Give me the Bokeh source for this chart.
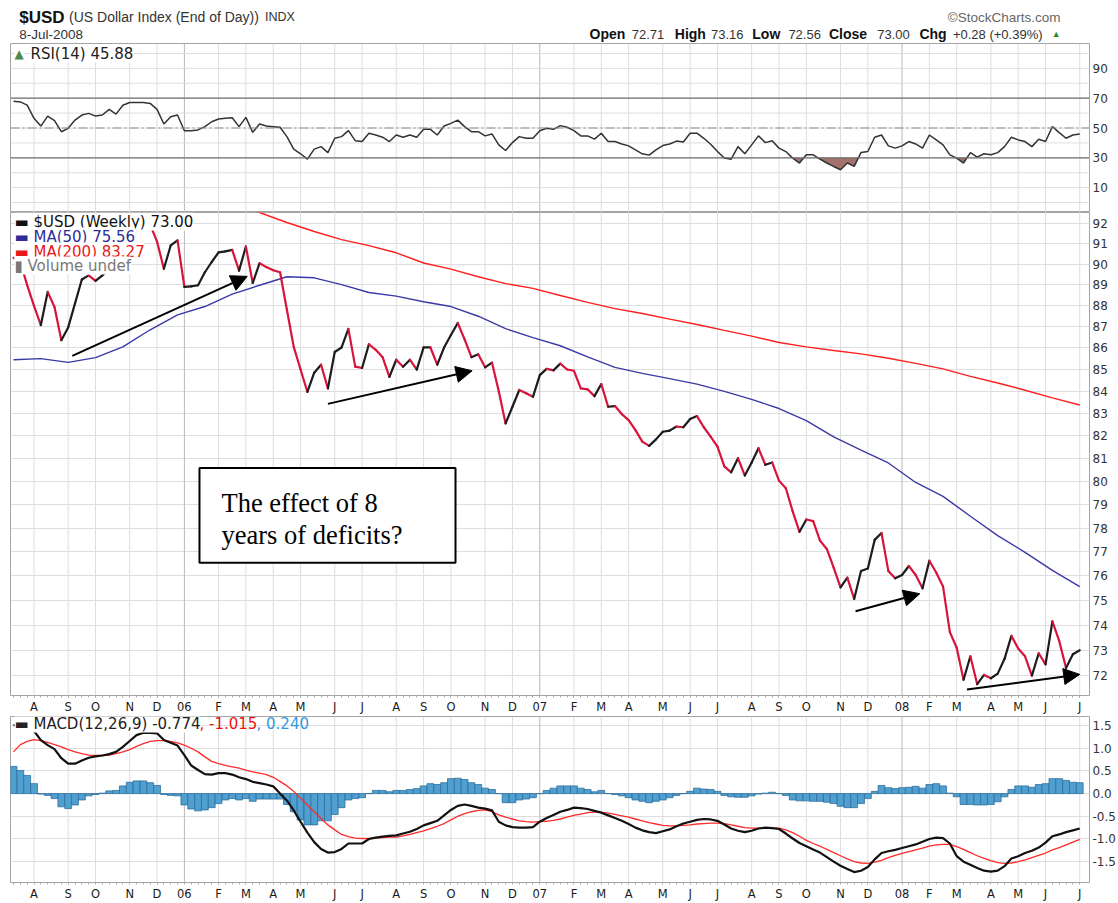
import numpy as np
from bokeh.plotting import figure
from bokeh.layouts import column
from bokeh.models import (Range1d, FixedTicker, PrintfTickFormatter, Span, Label,
                          Arrow, NormalHead, BoxAnnotation)
from bokeh.embed import file_html
from bokeh.resources import INLINE

# ---------------- data (weekly bars, index 0 = first bar) ----------------
weeks = list(range(157))

price = [90.3, 90.1, 88.98, 87.98, 87.07, 88.65, 87.93, 86.36, 86.96, 88.1,
         89.25, 89.45, 89.18, 89.45, 89.75, 89.6, 90.9, 92.0, 92.2, 92.3,
         91.95, 91.1, 89.77, 90.91, 91.16, 88.89, 88.92, 88.97, 89.6, 90.1,
         90.57, 90.62, 90.69, 89.68, 90.86, 89.08, 90.04, 89.85, 89.7, 89.6,
         87.8, 86.05, 85.0, 83.97, 84.85, 85.22, 84.13, 85.81, 86.02, 86.89,
         85.13, 85.07, 86.17, 85.91, 85.57, 84.66, 85.45, 85.13, 85.45, 84.99,
         86.02, 86.02, 85.22, 86.02, 86.6, 87.17, 86.4, 85.57, 85.7, 85.1,
         85.32, 84.0, 82.55, 83.3, 84.06, 83.91, 83.75, 84.74, 85.03, 84.96,
         85.27, 85.0, 84.94, 84.13, 84.09, 83.78, 84.33, 83.3, 83.33, 82.97,
         82.7, 82.25, 81.74, 81.55, 81.84, 82.18, 82.23, 82.41, 82.38, 82.75,
         82.88, 82.38, 81.96, 81.52, 80.65, 80.39, 81.01, 80.25, 80.82, 81.45,
         80.72, 80.82, 80.03, 79.7, 78.71, 77.84, 78.36, 78.29, 77.47, 77.12,
         76.34, 75.53, 75.93, 75.06, 76.2, 76.31, 77.5, 77.79, 76.2, 75.9,
         76.04, 76.41, 76.04, 75.49, 76.63, 76.14, 75.57, 73.72, 73.1, 71.84,
         72.76, 71.67, 72.03, 71.9, 72.08, 72.66, 73.57, 73.07, 72.76, 72.0,
         72.88, 72.44, 74.15, 73.37, 72.3, 72.84, 73.0]

ma50_weeks = list(range(0, 157, 4))
ma50 = [85.45, 85.50, 85.33, 85.55, 86.05, 86.85, 87.55, 87.95, 88.54, 88.97,
        89.38, 89.33, 89.0, 88.62, 88.45, 88.18, 87.95, 87.49, 86.9, 86.48,
        86.1, 85.58, 85.1, 84.82, 84.58, 84.33, 84.0, 83.63, 83.22, 82.68,
        81.95, 81.36, 80.8, 79.95, 79.35, 78.5, 77.68, 76.98, 76.23, 75.56]

ma200_weeks = list(range(32, 157, 4))
ma200 = [93.0, 92.55, 92.05, 91.6, 91.2, 90.9, 90.55, 90.05, 89.75, 89.38,
         89.05, 88.82, 88.48, 88.15, 87.85, 87.62, 87.35, 87.1, 86.82, 86.55,
         86.25, 86.05, 85.88, 85.72, 85.52, 85.28, 85.03, 84.68, 84.38, 84.05,
         83.7, 83.38]

rsi = [68, 67.5, 65.3, 56.5, 51.3, 58, 54.9, 47.5, 49.8, 55.3,
       58.7, 59.8, 58, 58.7, 62.5, 59.3, 65.3, 67.1, 67.1, 67.1,
       66.5, 62.5, 52.7, 57.5, 58.7, 48.2, 48.2, 48.7, 50.9, 54.2,
       56, 56.5, 56.9, 50.9, 57.1, 47.1, 52.7, 51.3, 50.9, 50.5,
       44.2, 35.8, 32.7, 29.1, 35.8, 37.5, 33.5, 43.1, 44.2, 48.2,
       41.5, 40.9, 46.5, 45.3, 43.8, 40.9, 45.3, 43.8, 45.3, 43.8,
       49.1, 49.1, 45.3, 51.3, 53.1, 55.3, 50.9, 47.5, 47.5, 44.7,
       46, 38.7, 34.9, 40.2, 44.2, 43.1, 43.1, 48.2, 49.8, 49.1,
       51.6, 50.5, 48.2, 44.7, 44.7, 42.5, 46.5, 40.9, 40.9, 39.3,
       38, 35.3, 32.7, 31.8, 35.3, 38.2, 39.3, 41.2, 40.6, 46.5,
       46.5, 43.1, 39.1, 34.2, 29.8, 29.1, 37.5, 32.7, 38.7, 44.7,
       40.2, 41.5, 36.5, 34.2, 29.8, 26.5, 32, 32, 29.1, 26.5,
       24.2, 22, 26.5, 24.2, 33.5, 34.2, 43.8, 45.3, 38, 36.5,
       38, 40.9, 39.3, 36.5, 45.3, 42, 38.7, 32, 29.8, 26.5,
       33.5, 30.5, 32.7, 32, 33.5, 37.5, 43.8, 42, 40.9, 37.5,
       42.5, 40.9, 50.9, 46.9, 43.1, 45.3, 45.9]

macd = [1.51, 1.50, 1.47, 1.38, 1.18, 1.07, 0.98, 0.78, 0.66, 0.66,
        0.73, 0.79, 0.82, 0.84, 0.87, 0.92, 1.03, 1.16, 1.29, 1.34,
        1.34, 1.33, 1.18, 1.12, 1.06, 0.85, 0.62, 0.52, 0.43, 0.42,
        0.45, 0.45, 0.42, 0.36, 0.32, 0.26, 0.23, 0.20, 0.16, 0.00,
        -0.15, -0.37, -0.62, -0.86, -1.07, -1.22, -1.30, -1.29, -1.22, -1.10,
        -1.10, -1.10, -1.00, -0.97, -0.95, -0.93, -0.92, -0.88, -0.84, -0.78,
        -0.70, -0.65, -0.60, -0.48, -0.36, -0.27, -0.24, -0.27, -0.31, -0.33,
        -0.37, -0.62, -0.70, -0.74, -0.75, -0.75, -0.74, -0.62, -0.54, -0.47,
        -0.40, -0.36, -0.31, -0.32, -0.34, -0.38, -0.42, -0.48, -0.54, -0.60,
        -0.67, -0.75, -0.81, -0.85, -0.87, -0.83, -0.79, -0.72, -0.66, -0.62,
        -0.58, -0.56, -0.57, -0.60, -0.68, -0.77, -0.82, -0.85, -0.82, -0.77,
        -0.75, -0.76, -0.78, -0.88, -0.99, -1.09, -1.16, -1.23, -1.30, -1.40,
        -1.50, -1.59, -1.66, -1.73, -1.70, -1.62, -1.45, -1.31, -1.27, -1.24,
        -1.20, -1.16, -1.12, -1.06, -1.00, -0.97, -0.98, -1.10, -1.38, -1.50,
        -1.57, -1.64, -1.70, -1.72, -1.70, -1.60, -1.43, -1.38, -1.31, -1.26,
        -1.19, -1.08, -0.94, -0.90, -0.85, -0.81, -0.77]

signal = [0.92, 1.08, 1.15, 1.19, 1.17, 1.13, 1.08, 1.03, 0.97, 0.92,
          0.88, 0.85, 0.84, 0.84, 0.85, 0.88, 0.92, 0.97, 1.04, 1.10,
          1.15, 1.17, 1.17, 1.15, 1.12, 1.07, 1.00, 0.92, 0.81, 0.71,
          0.66, 0.62, 0.59, 0.56, 0.52, 0.48, 0.45, 0.42, 0.36, 0.27,
          0.17, 0.05, -0.10, -0.25, -0.40, -0.55, -0.69, -0.80, -0.90, -0.95,
          -0.98, -0.99, -0.99, -0.98, -0.97, -0.96, -0.96, -0.93, -0.90, -0.86,
          -0.82, -0.77, -0.72, -0.66, -0.58, -0.50, -0.44, -0.40, -0.37, -0.36,
          -0.40, -0.47, -0.52, -0.56, -0.60, -0.62, -0.63, -0.62, -0.61, -0.59,
          -0.56, -0.52, -0.48, -0.45, -0.42, -0.41, -0.41, -0.43, -0.46, -0.49,
          -0.52, -0.56, -0.60, -0.64, -0.67, -0.70, -0.71, -0.71, -0.70, -0.69,
          -0.67, -0.66, -0.65, -0.65, -0.66, -0.69, -0.72, -0.75, -0.76, -0.76,
          -0.76, -0.76, -0.76, -0.80, -0.86, -0.94, -1.03, -1.10, -1.16, -1.23,
          -1.30, -1.37, -1.44, -1.50, -1.53, -1.54, -1.51, -1.47, -1.41, -1.36,
          -1.32, -1.28, -1.24, -1.20, -1.16, -1.13, -1.12, -1.12, -1.17, -1.23,
          -1.30, -1.37, -1.43, -1.48, -1.52, -1.54, -1.53, -1.50, -1.46, -1.41,
          -1.36, -1.31, -1.24, -1.19, -1.13, -1.07, -1.01]

hist = [0.60, 0.51, 0.40, 0.22, -0.01, -0.04, -0.11, -0.29, -0.33, -0.25,
        -0.14, -0.05, -0.02, 0.01, 0.06, 0.07, 0.17, 0.25, 0.28, 0.28,
        0.24, 0.18, -0.02, -0.04, -0.05, -0.25, -0.34, -0.38, -0.36, -0.31,
        -0.22, -0.14, -0.11, -0.14, -0.11, -0.17, -0.12, -0.12, -0.12, -0.12,
        -0.24, -0.40, -0.58, -0.69, -0.69, -0.60, -0.60, -0.46, -0.31, -0.14,
        -0.11, -0.09, 0.00, 0.07, 0.07, 0.04, 0.07, 0.07, 0.09, 0.11,
        0.17, 0.22, 0.20, 0.24, 0.33, 0.34, 0.31, 0.24, 0.20, 0.12,
        0.09, 0.00, -0.20, -0.20, -0.14, -0.12, -0.09, 0.00, 0.07, 0.12,
        0.17, 0.17, 0.17, 0.12, 0.09, 0.04, 0.07, 0.00, -0.02, -0.05,
        -0.09, -0.14, -0.17, -0.20, -0.17, -0.14, -0.09, -0.04, 0.00, 0.05,
        0.12, 0.10, 0.09, 0.05, -0.04, -0.07, -0.08, -0.08, -0.05, -0.01,
        0.01, 0.03, 0.00, -0.04, -0.14, -0.16, -0.16, -0.17, -0.17, -0.19,
        -0.22, -0.28, -0.31, -0.31, -0.22, -0.11, 0.05, 0.18, 0.13, 0.11,
        0.13, 0.14, 0.16, 0.12, 0.20, 0.22, 0.17, 0.01, -0.07, -0.24,
        -0.24, -0.25, -0.25, -0.24, -0.18, -0.07, 0.09, 0.17, 0.17, 0.14,
        0.20, 0.22, 0.33, 0.33, 0.29, 0.25, 0.24]

month_ticks = [3, 8, 12, 17, 21, 25, 30, 34, 38, 42, 47, 51, 56, 60, 64, 69, 73, 77,
               82, 86, 90, 95, 99, 103, 108, 112, 116, 121, 125, 130, 134, 138, 143,
               147, 151, 156]
month_labels = ["A", "S", "O", "N", "D", "06", "F", "M", "A", "M", "J", "J", "A", "S",
                "O", "N", "D", "07", "F", "M", "A", "M", "J", "J", "A", "S", "O", "N",
                "D", "08", "F", "M", "A", "M", "J", "J"]
year_labels = ["06", "07", "08"]

price_ticks = list(range(72, 93))
rsi_ticks = [10, 30, 50, 70, 90]
rsi_grid = list(range(0, 101, 10))
macd_ticks = [-1.5, -1.0, -0.5, 0.0, 0.5, 1.0, 1.5]

# annotation arrows (x0, y0, x1, y1) in week / price units
arrows = [(8.6, 85.63, 34.2, 89.4), (46.0, 83.43, 67.1, 84.94),
          (123.2, 74.56, 132.6, 75.27), (139.5, 71.46, 156.0, 72.05)]

# ---------------- styling ----------------
FONT = "DejaVu Sans"
GRID = "#dedede"
YEARGRID = "#b8b8b8"
BORDER = "#a4a4a4"
UP = "#1c1c1c"
DOWN = "#d8143a"

x_range = Range1d(-0.44, 157.43)


def panel(height, y_range, border_bottom, y_type="linear", x_axis=None):
    p = figure(width=1118, height=height, x_range=x_range, y_range=y_range,
               y_axis_type=y_type, y_axis_location="right", x_axis_location=x_axis,
               toolbar_location=None, output_backend="svg",
               min_border_left=10, min_border_right=29, min_border_top=0,
               min_border_bottom=border_bottom)
    p.outline_line_color = BORDER
    p.background_fill_color = "white"
    p.border_fill_color = "white"
    p.xgrid.visible = False
    p.ygrid.grid_line_color = GRID
    ya = p.yaxis[0]
    ya.major_tick_out = 0
    ya.major_tick_in = 0
    ya.minor_tick_out = 0
    ya.minor_tick_in = 0
    ya.axis_line_color = None
    ya.major_label_standoff = 3
    ya.major_label_text_font = FONT
    ya.major_label_text_font_size = "12px"
    ya.major_label_text_color = "#333333"
    for t, lab in zip(month_ticks, month_labels):
        p.add_layout(Span(location=t, dimension="height",
                          line_color=YEARGRID if lab in year_labels else GRID,
                          line_width=1, level="underlay"))
    if x_axis is not None:
        ax = p.xaxis[0]
        ax.ticker = FixedTicker(ticks=month_ticks, minor_ticks=weeks)
        ax.major_label_overrides = {t: lab for t, lab in zip(month_ticks, month_labels)}
        ax.major_label_text_font = FONT
        ax.major_label_text_font_size = "11.5px"
        ax.major_label_text_color = "#1a1a1a"
        ax.major_tick_out = 2
        ax.major_tick_in = 0
        ax.minor_tick_out = 2
        ax.minor_tick_in = 0
        ax.major_tick_line_color = "#999999"
        ax.minor_tick_line_color = "#aaaaaa"
        ax.axis_line_color = None
        ax.major_label_standoff = 2
    return p


def slabel(p, x, y, text, color, size="15px", font=FONT, style="normal", bg="white"):
    p.add_layout(Label(x=x, y=y, x_units="screen", y_units="screen", text=text,
                       text_color=color, text_font=font, text_font_size=size,
                       text_font_style=style, text_baseline="middle",
                       background_fill_color=bg))


# ---------------- header ----------------
hdr = figure(width=1118, height=43, x_range=Range1d(0, 1118), y_range=Range1d(43, 0),
             x_axis_location=None, y_axis_location=None, toolbar_location=None,
             output_backend="svg", min_border=0)
hdr.outline_line_color = None
hdr.grid.visible = False


def htext(x, y, text, size, style="normal", color="#222222", align="left", font="Liberation Sans"):
    hdr.add_layout(Label(x=x, y=y, text=text, text_font=font, text_font_size=size,
                         text_font_style=style, text_color=color, text_align=align,
                         text_baseline="middle"))


htext(9, 16.5, "$USD", "17px", "bold", "#111111")
htext(60.7, 16.5, "(US Dollar Index (End of Day))", "14px", color="#333333")
htext(263.6, 16.5, "INDX", "12.5px", color="#333333")
htext(9, 33.5, "8-Jul-2008", "13.5px", color="#333333")
htext(1088, 16.5, "\u00a9StockCharts.com", "13.5px", color="#666666", align="right")
for x, t, st in [(600, "Open", "bold"), (643.7, "72.71", "normal"), (688.3, "High", "bold"),
                 (725.8, "73.16", "normal"), (768.6, "Low", "bold"), (806, "72.56", "normal"),
                 (848, "Close", "bold"), (898, "73.00", "normal"), (941.8, "Chg", "bold"),
                 (976.5, "+0.28 (+0.39%)", "normal")]:
    htext(x, 33.5, t, "14px" if st == "bold" else "13px", st,
          "#111111" if st == "bold" else "#333333")
htext(1079, 33.5, "\u25b2", "9px", color="#2e8b2e")

# ---------------- RSI panel ----------------
rp = panel(169, Range1d(-6.7, 106.7), 0)
rp.yaxis[0].ticker = FixedTicker(ticks=rsi_ticks)
rp.ygrid.visible = False
for g in rsi_grid:
    rp.add_layout(Span(location=g, dimension="width", line_color=GRID, line_width=1, level="underlay"))
for g in (70, 30):
    rp.add_layout(Span(location=g, dimension="width", line_color="#707070", line_width=1.3))
rp.add_layout(Span(location=50, dimension="width", line_color="#8c8c8c", line_width=1.1,
                   line_dash="9 3 2 3"))

fx, fy = [], []
for i in range(len(rsi)):
    if i > 0:
        a, b = rsi[i - 1], rsi[i]
        if (a - 30) * (b - 30) < 0:
            t = (30 - a) / (b - a)
            fx.append(i - 1 + t)
            fy.append(30.0)
    fx.append(weeks[i])
    fy.append(rsi[i])
rp.varea(x=fx, y1=list(np.minimum(fy, 30.0)), y2=[30.0] * len(fx), fill_color="#a3726d")
rp.line(weeks, rsi, line_color="#333333", line_width=1.5)
slabel(rp, 4, 159, "\u25b2", "#4d8a4d", size="12px")
slabel(rp, 20, 159, "RSI(14) 45.88", "#222222")

# ---------------- price panel ----------------
pp = panel(504, Range1d(71.23, 92.55), 20, y_type="log", x_axis="below")
pp.yaxis[0].ticker = FixedTicker(ticks=price_ticks)
pp.yaxis[0].formatter = PrintfTickFormatter(format="%d")
pp.line(ma200_weeks, ma200, line_color="#ff1f1f", line_width=1.4)
pp.line(ma50_weeks, ma50, line_color="#3a3aa6", line_width=1.4)
seg_col = [UP if b >= a else DOWN for a, b in zip(price[:-1], price[1:])]
pp.segment(x0=weeks[:-1], y0=price[:-1], x1=weeks[1:], y1=price[1:],
           line_color=seg_col, line_width=2.2, line_cap="round")

for (x0, y0, x1, y1) in arrows:
    pp.add_layout(Arrow(x_start=x0, y_start=y0, x_end=x1, y_end=y1, line_width=2,
                        line_color="black",
                        end=NormalHead(size=16, fill_color="black", line_color="black")))

pp.add_layout(BoxAnnotation(left=27.21, right=64.67, bottom=76.55, top=80.58,
                            fill_color="white", fill_alpha=1.0, line_color="black",
                            line_alpha=1.0, line_width=2))
for yv, t in [(79.06, "The effect of 8"), (77.72, "years of deficits?")]:
    pp.add_layout(Label(x=30.43, y=yv, text=t, text_font="Liberation Serif",
                        text_font_size="26.5px", text_color="black",
                        text_baseline="alphabetic"))

slabel(pp, 4, 474, "\u25ac $USD (Weekly) 73.00", "#111111")
slabel(pp, 4, 459, "\u25ac MA(50) 75.56", "#2d2d99")
slabel(pp, 4, 444, "\u25ac MA(200) 83.27", "#e81818")
slabel(pp, 4, 430, "\u25ae Volume undef", "#777777")

# ---------------- MACD panel ----------------
mp = panel(187, Range1d(-1.96, 1.70), 18, x_axis="below")
mp.yaxis[0].ticker = FixedTicker(ticks=macd_ticks)
mp.yaxis[0].formatter = PrintfTickFormatter(format="%.1f")
mp.xaxis[0].major_tick_out = 1
mp.vbar(x=weeks, top=hist, bottom=0, width=1.0, fill_color="#4f9fd1",
        line_color="#2f6e9c", line_width=0.8)
mp.line(weeks, signal, line_color="#ff2a2a", line_width=1.3)
mp.line(weeks, macd, line_color="#111111", line_width=2.2)
slabel(mp, 4, 159, "\u25ac MACD(12,26,9) -0.774", "#222222")
slabel(mp, 189, 159, ", -1.015", "#ee1111", bg=None)
slabel(mp, 246, 159, ", 0.240", "#3399dd", bg=None)

layout = column(hdr, rp, pp, mp, spacing=0)
open("out.html", "w").write(file_html(layout, INLINE, title="$USD"))
